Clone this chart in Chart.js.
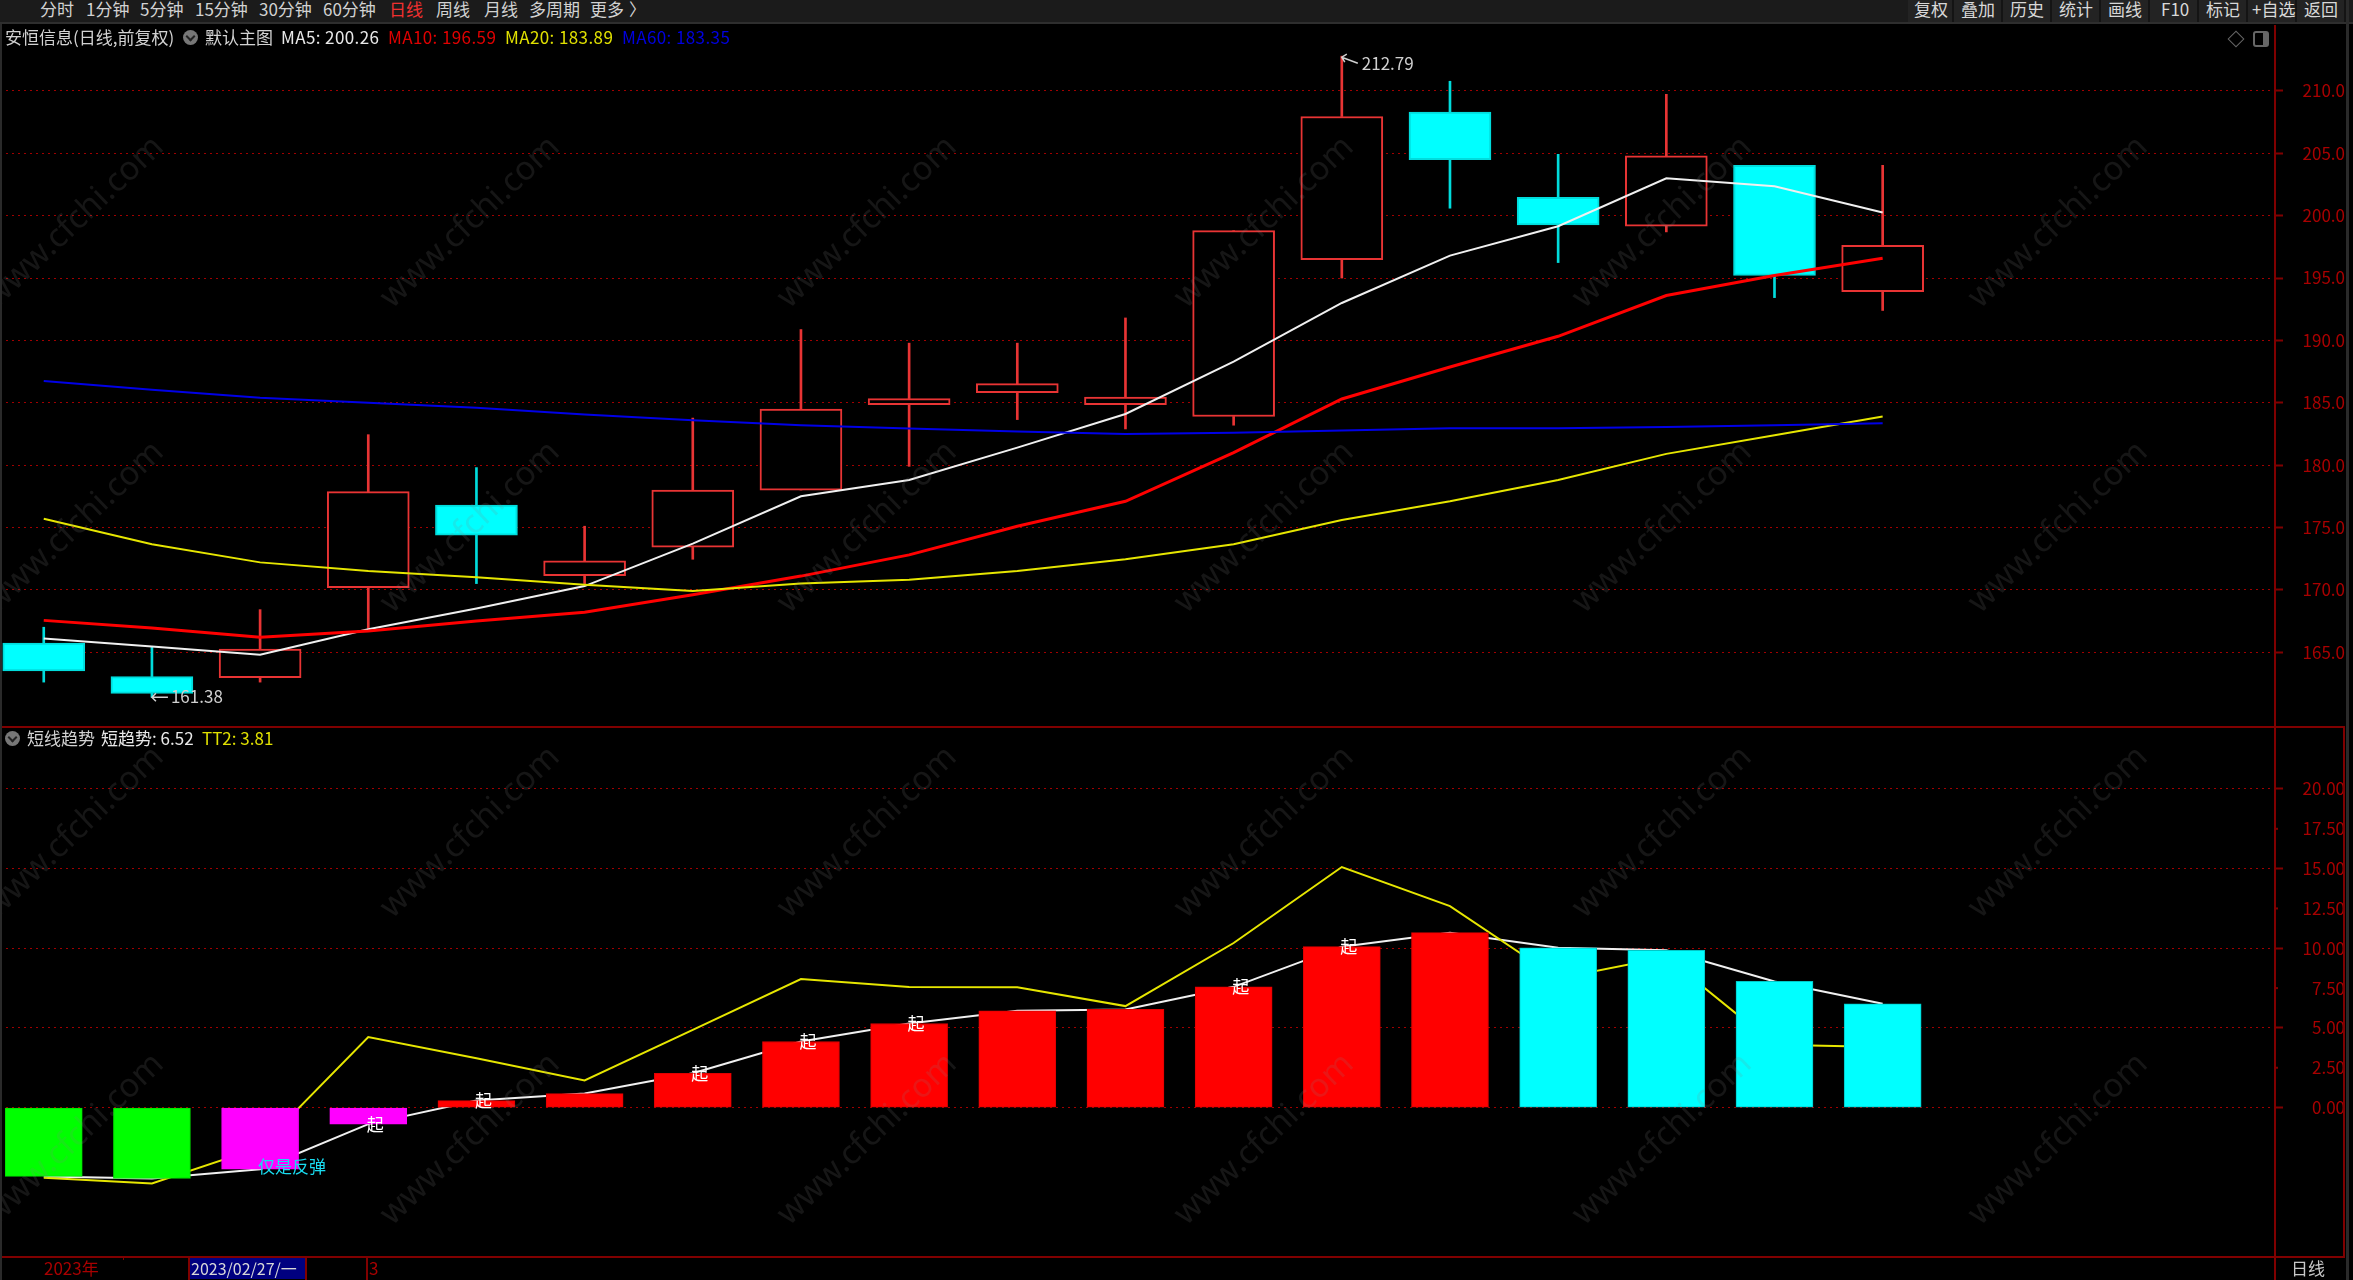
<!DOCTYPE html>
<html lang="zh">
<head>
<meta charset="utf-8">
<title>安恒信息 日线</title>
<script src="https://cdn.jsdelivr.net/npm/chart.js@4/dist/chart.umd.min.js"></script>
<style>
    html, body { margin: 0; background: #000; overflow: hidden; }
    body { position: relative; width: 2353px; height: 1280px; font: 17px "Noto Sans CJK SC", sans-serif; color: #d2d2d2; }
    canvas { position: absolute; left: 0; }
    .t { position: absolute; white-space: nowrap; line-height: 20px; }
    .ln { position: absolute; background: #800000; }
    #toolbar { position: absolute; left: 0; top: 0; width: 2353px; height: 22px; background: #1b1b1b; border-bottom: 2px solid #2e2e2e; }
    .btn { position: absolute; top: 0; height: 22px; background: #232323; border-right: 2px solid #141414; box-sizing: border-box; }
    .dot { position: absolute; width: 15px; height: 15px; border-radius: 50%; background: #777; }
    .dot:after { content: ""; position: absolute; left: 4px; top: 3px; width: 5px; height: 5px; border: solid #222; border-width: 0 2px 2px 0; transform: rotate(45deg); }
    #marks { position: absolute; left: 0; top: 25px; width: 2345px; height: 1232px; overflow: hidden; pointer-events: none; }
    .wm { position: absolute; font: 33px "Noto Sans", sans-serif; color: rgba(128,128,128,.17); transform: translate(-50%,-50%) rotate(-43.5deg); white-space: nowrap; }
</style>
</head>
<body>
<div id="toolbar"></div>
<canvas id="main-chart" width="2345" height="702" style="top:25px"></canvas>
<canvas id="sub-chart" width="2345" height="530" style="top:727px"></canvas>
<div id="marks"></div>
<script>
/* ── 数据 ── */
const days = [0, 1, 2, 3, 4, 5, 6, 7, 8, 9, 10, 11, 12, 13, 14, 15, 16, 17];

const openPx = [165.73, 163.04, 162.96, 170.17, 176.79, 171.13, 173.42, 178.0, 184.85, 185.8, 184.85, 183.9, 196.48, 208.3, 201.48, 199.15, 204.04, 193.91];
const closePx = [163.49, 161.7, 165.25, 177.87, 174.38, 172.33, 178.0, 184.49, 185.33, 186.53, 185.45, 198.8, 207.95, 204.5, 199.25, 204.79, 195.22, 197.63];
const highPx = [167.0, 165.41, 168.41, 182.44, 179.8, 175.1, 183.77, 190.87, 189.78, 189.78, 191.8, 198.8, 212.79, 210.78, 204.92, 209.73, 204.04, 204.04];
const lowPx = [162.6, 161.38, 162.6, 166.92, 170.5, 170.5, 172.45, 178.0, 179.9, 183.65, 182.9, 183.2, 195.0, 200.6, 196.24, 198.7, 193.43, 192.4];

const ma5 = [166.1, 165.46, 164.8, 166.83, 168.5, 170.3, 173.7, 177.5, 178.8, 181.4, 184.1, 188.3, 193.0, 196.8, 199.15, 203.0, 202.36, 200.26];
const ma10 = [167.55, 166.94, 166.2, 166.7, 167.5, 168.2, 169.6, 171.1, 172.8, 175.1, 177.1, 181.0, 185.3, 187.87, 190.33, 193.6, 195.2, 196.59];
const ma20 = [175.7, 173.66, 172.2, 171.5, 171.0, 170.4, 169.9, 170.5, 170.8, 171.5, 172.45, 173.66, 175.6, 177.1, 178.8, 180.9, 182.4, 183.89];
const ma60 = [186.75, 186.05, 185.4, 185.0, 184.6, 184.05, 183.6, 183.2, 182.93, 182.7, 182.5, 182.6, 182.78, 182.95, 182.95, 183.05, 183.2, 183.35];

const shortTrend = [-4.32, -4.45, -3.87, -1.04, 0.44, 0.88, 2.15, 4.15, 5.28, 6.08, 6.16, 7.58, 10.1, 10.98, 10.03, 9.87, 7.92, 6.52];
const tt2 = [-4.4, -4.76, -2.5, 4.43, 3.1, 1.7, 4.88, 8.07, 7.57, 7.55, 6.37, 10.33, 15.1, 12.65, 8.1, 9.45, 3.95, 3.81];
const trendState = ['跌', '跌', '弹', '弹', '涨', '涨', '涨', '涨', '涨', '涨', '涨', '涨', '涨', '涨', '退', '退', '退', '退'];
const qiDays = [3, 4, 6, 7, 8, 11, 12];
const reboundDay = 2;

const priceTicks = [165, 170, 175, 180, 185, 190, 195, 200, 205, 210];
const subTicks = [0, 2.5, 5, 7.5, 10, 12.5, 15, 17.5, 20];

/* ── 顶部和文字 ── */
const DARK_RED = '#800000';
const GRID_RED = '#a00000';
const AXIS_TEXT = '#a80000';
const FONT = '"Noto Sans CJK SC", sans-serif';
const RED_LINE = '#e83434';
const CYAN = '#00ffff';
const WIDE = { letterSpacing: '0.4px' };

function addText(parent, text, left, top, color, extra) {
    const el = document.createElement('span');
    el.className = 't';
    el.textContent = text;
    el.style.left = left + 'px';
    el.style.top = top + 'px';
    if (color) el.style.color = color;
    if (extra) Object.assign(el.style, extra);
    parent.appendChild(el);
    return el;
}

function addBox(cls, css) {
    const el = document.createElement('div');
    el.className = cls;
    Object.assign(el.style, css);
    document.body.appendChild(el);
    return el;
}

const toolbar = document.getElementById('toolbar');
[['分时', 40], ['1分钟', 86], ['5分钟', 140], ['15分钟', 195], ['30分钟', 259], ['60分钟', 323],
 ['日线', 389], ['周线', 436], ['月线', 484], ['多周期', 529], ['更多', 590], ['〉', 629]].forEach(([s, x]) => {
    addText(toolbar, s, x, -1, s === '日线' ? '#f03030' : '#d2d2d2');
});
[1908, 1954, 2003, 2052, 2101, 2150, 2199, 2248, 2297].forEach((x, i, all) => {
    const b = document.createElement('div');
    b.className = 'btn';
    b.style.left = x + 'px';
    b.style.width = ((all[i + 1] || 2346) - x) + 'px';
    toolbar.appendChild(b);
});
[['复权', 1914], ['叠加', 1961], ['历史', 2010], ['统计', 2059], ['画线', 2108], ['F10', 2161], ['标记', 2206], ['+自选', 2252], ['返回', 2304]].forEach(([s, x]) => {
    addText(toolbar, s, x, -1, '#d8d8d8');
});

addText(document.body, '安恒信息(日线,前复权)', 5, 27);
addBox('dot', { left: '183px', top: '30px' });
addText(document.body, '默认主图', 205, 27);
addText(document.body, 'MA5: 200.26', 281, 27, '#e8e8e8', WIDE);
addText(document.body, 'MA10: 196.59', 388, 27, '#e00000', WIDE);
addText(document.body, 'MA20: 183.89', 505, 27, '#e0e000', WIDE);
addText(document.body, 'MA60: 183.35', 622, 27, '#0000e0', WIDE);

addBox('dot', { left: '5px', top: '731px' });
addText(document.body, '短线趋势', 27, 728);
addText(document.body, '短趋势: 6.52', 101, 728, '#e8e8e8');
addText(document.body, 'TT2: 3.81', 202, 728, '#e0e000');

// 右上角两个小图标
addBox('t', { left: '2230px', top: '33px', width: '10px', height: '10px', border: '1px solid #666', transform: 'rotate(45deg)' });
addBox('t', { left: '2253px', top: '31px', width: '8px', height: '12px', border: '2px solid #666', borderRadius: '3px', borderRightWidth: '6px' });

// 底部时间轴
addText(document.body, '2023年', 44, 1258, AXIS_TEXT);
addBox('t', { left: '189px', top: '1258px', width: '117px', height: '21px', background: '#000080' });
addText(document.body, '2023/02/27/一', 191, 1258, '#d8d8d8', { fontSize: '16px' });
addText(document.body, '3', 369, 1258, AXIS_TEXT);
addText(document.body, '日线', 2291, 1258, '#c8c8c8');

// 框线
addBox('ln', { left: '0', top: '726px', width: '2345px', height: '2px' });
addBox('ln', { left: '0', top: '1256px', width: '2345px', height: '2px' });
addBox('ln', { left: '2343px', top: '726px', width: '2px', height: '532px' });
addBox('ln', { left: '2274px', top: '1257px', width: '2px', height: '23px' });
addBox('ln', { left: '188px', top: '1257px', width: '2px', height: '23px' });
addBox('ln', { left: '305px', top: '1257px', width: '2px', height: '23px' });
addBox('ln', { left: '366px', top: '1257px', width: '2px', height: '23px' });
addBox('ln', { left: '123px', top: '1257px', width: '1px', height: '3px' });
addBox('ln', { left: '2346px', top: '0', width: '3px', height: '1280px', background: '#2a2a2a' });
addBox('ln', { left: '0', top: '24px', width: '2px', height: '1256px', background: '#2a2a2a' });

// 水印
const marks = document.getElementById('marks');
[195, 500, 805, 1112].forEach(y => {
    [72, 468, 865, 1262, 1660, 2056].forEach(x => {
        const w = document.createElement('span');
        w.className = 'wm';
        w.textContent = 'www.cfchi.com';
        w.style.left = x + 'px';
        w.style.top = y + 'px';
        marks.appendChild(w);
    });
});

/* ── 图表公共部分 ── */
const X_MIN = -0.4045;   // 第 0 根 K 线中心在 43.75px
const X_MAX = 20.627;    // 绘图区右边 2275px，K 线间距 108.17px

function xScale() {
    return {
        type: 'linear', min: X_MIN, max: X_MAX, offset: false, display: false,
        grid: { display: false },
    };
}

function yScale(min, max, ticks, fmt) {
    return {
        position: 'right', min, max,
        afterFit: s => { s.width = 70; s.paddingTop = 0; s.paddingBottom = 0; },
        afterBuildTicks: s => { s.ticks = ticks.map(v => ({ value: v })); },
        border: { color: DARK_RED, width: 2, dash: [2, 4] },
        grid: {
            lineWidth: 1, tickLength: 8, tickWidth: 2,
            color: c => (c.tick && c.tick.value % 5 === 0 ? GRID_RED : 'transparent'),
            tickColor: c => (c.tick && c.tick.value % 5 === 0 ? DARK_RED : 'transparent'),
        },
        ticks: {
            color: AXIS_TEXT, padding: 13, crossAlign: 'far', autoSkip: false, maxRotation: 0,
            font: { family: FONT, size: 17 },
            callback: v => fmt(v),
        },
    };
}

function lineSet(values, color, width) {
    return {
        type: 'line', order: 1, data: days.map(i => ({ x: i, y: values[i] })),
        borderColor: color, borderWidth: width, pointRadius: 0, tension: 0, fill: false,
    };
}

const chartOpts = (scales) => ({
    responsive: false, animation: false, events: [],
    layout: { padding: 0 },
    plugins: { legend: { display: false }, tooltip: { enabled: false } },
    scales,
});

/* ── K 线主图 ── */
const isUp = i => closePx[i] >= openPx[i];
const candleColor = i => (isUp(i) ? RED_LINE : '#00dcdc');

function wickSet(pick) {
    return {
        type: 'bar', order: 3, grouped: false, barThickness: 2, borderWidth: 0,
        data: days.map(i => ({ x: i, y: pick(i) })),
        backgroundColor: days.map(candleColor),
    };
}

// 标最高价、最低价
const extremePlugin = {
    id: 'extreme',
    afterDatasetsDraw(chart) {
        const { ctx, scales } = chart;
        const hi = highPx.indexOf(Math.max(...highPx));
        const lo = lowPx.indexOf(Math.min(...lowPx));
        ctx.save();
        ctx.font = '17px ' + FONT;
        ctx.fillStyle = '#d0d0d0';
        ctx.strokeStyle = '#d0d0d0';
        ctx.lineWidth = 1.5;
        ctx.textBaseline = 'middle';
        const hx = scales.x.getPixelForValue(hi), hy = scales.y.getPixelForValue(highPx[hi]);
        ctx.beginPath();
        ctx.moveTo(hx + 16, hy + 7); ctx.lineTo(hx, hy + 1);
        ctx.moveTo(hx + 5, hy - 2); ctx.lineTo(hx, hy + 1); ctx.lineTo(hx + 3, hy + 6);
        ctx.stroke();
        ctx.fillText(highPx[hi].toFixed(2), hx + 20, hy + 7);
        const lx = scales.x.getPixelForValue(lo), ly = scales.y.getPixelForValue(lowPx[lo]);
        ctx.beginPath();
        ctx.moveTo(lx + 16, ly); ctx.lineTo(lx, ly);
        ctx.moveTo(lx + 4, ly - 4); ctx.lineTo(lx, ly); ctx.lineTo(lx + 4, ly + 4);
        ctx.stroke();
        ctx.fillText(lowPx[lo].toFixed(2), lx + 19, ly - 1);
        ctx.restore();
    },
};

new Chart(document.getElementById('main-chart'), {
    type: 'bar',
    data: {
        datasets: [
            lineSet(ma60, '#0000e6', 2),
            lineSet(ma20, '#e6e600', 2),
            lineSet(ma10, '#ff0000', 3),
            lineSet(ma5, '#f0f0f0', 2),
            wickSet(i => [Math.max(openPx[i], closePx[i]), highPx[i]]),
            wickSet(i => [lowPx[i], Math.min(openPx[i], closePx[i])]),
            {
                type: 'bar', order: 2, grouped: false, barThickness: 82, borderWidth: 2, borderSkipped: false,
                data: days.map(i => ({ x: i, y: [openPx[i], closePx[i]] })),
                backgroundColor: days.map(i => (isUp(i) ? '#000' : CYAN)),
                borderColor: days.map(candleColor),
            },
        ],
    },
    options: chartOpts({
        x: xScale(),
        y: yScale(159.0, 215.29, priceTicks, v => v.toFixed(1)),
    }),
    plugins: [extremePlugin],
});

/* ── 短线趋势副图 ── */
const stateColor = { '跌': '#00ff00', '弹': '#ff00ff', '涨': '#ff0000', '退': CYAN };
const stateEdge = { '跌': '#00e000', '弹': '#ff00ff', '涨': '#e00000', '退': '#00c8c8' };

// 信号文字和 2.5 的短刻度
const signalPlugin = {
    id: 'signal',
    afterDatasetsDraw(chart) {
        const { ctx, scales } = chart;
        ctx.save();
        ctx.font = '17px ' + FONT;
        ctx.textBaseline = 'middle';
        ctx.textAlign = 'center';
        ctx.fillStyle = '#fff';
        qiDays.forEach(i => {
            ctx.fillText('起', scales.x.getPixelForValue(i) + 7, scales.y.getPixelForValue(shortTrend[i]));
        });
        ctx.textAlign = 'left';
        ctx.fillStyle = '#19dcf0';
        ctx.fillText('仅是反弹', scales.x.getPixelForValue(reboundDay) - 2, scales.y.getPixelForValue(shortTrend[reboundDay]) - 3);
        ctx.fillStyle = DARK_RED;
        subTicks.filter(v => v % 5 !== 0).forEach(v => {
            ctx.fillRect(scales.y.left, scales.y.getPixelForValue(v) - 1, 3, 2);
        });
        ctx.restore();
    },
};

new Chart(document.getElementById('sub-chart'), {
    type: 'bar',
    data: {
        datasets: [
            Object.assign(lineSet(tt2, '#e6e600', 2), { order: 2 }),
            Object.assign(lineSet(shortTrend, '#f0f0f0', 2), { order: 2 }),
            {
                type: 'bar', order: 1, grouped: false, barThickness: 77, borderWidth: 1, borderSkipped: false,
                data: days.map(i => ({ x: i, y: shortTrend[i] })),
                backgroundColor: trendState.map(s => stateColor[s]),
                borderColor: trendState.map(s => stateEdge[s]),
            },
        ],
    },
    options: chartOpts({
        x: xScale(),
        y: yScale(-9.38, 23.89, subTicks, v => v.toFixed(2)),
    }),
    plugins: [signalPlugin],
});
</script>
</body>
</html>
